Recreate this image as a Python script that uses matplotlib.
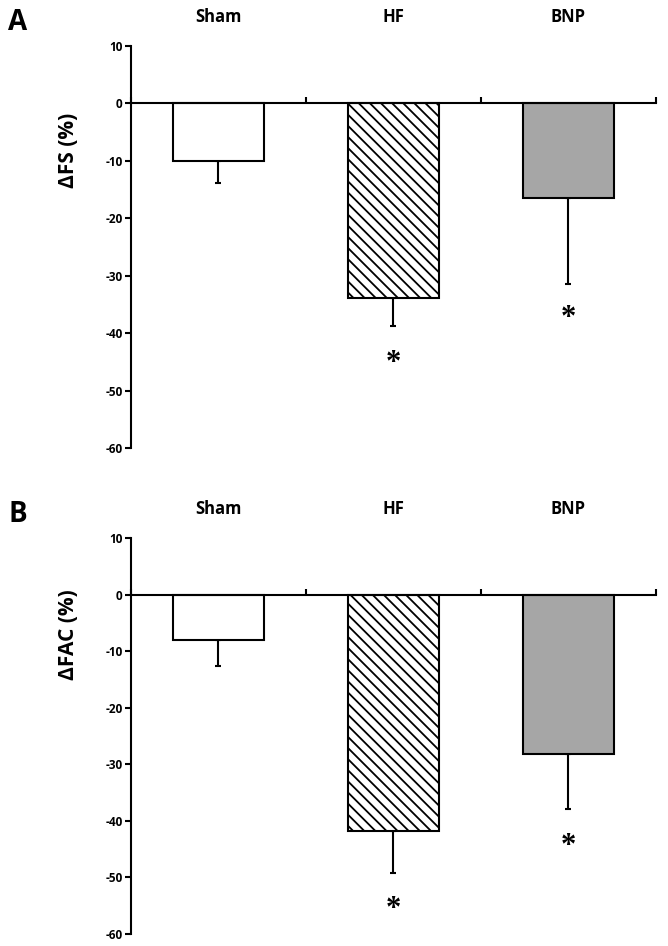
import numpy as np
import matplotlib
matplotlib.use('Agg')
import matplotlib.pyplot as plt

plt.rcParams['font.family'] = ['Open Sans', 'DejaVu Sans']
plt.rcParams['font.weight'] = 'bold'
plt.rcParams['hatch.linewidth'] = 1.3
plt.rcParams['axes.unicode_minus'] = False

groups = ['Sham', 'HF', 'BNP']

# panel A: change in fractional shortening
fs_mean = [-10.1, -33.9, -16.4]
fs_err = [3.8, 4.8, 15.0]
fs_star = [None, -45.3, -37.5]

# panel B: change in fractional area change
fac_mean = [-8.0, -41.8, -28.1]
fac_err = [4.7, 7.4, 9.8]
fac_star = [None, -55.6, -44.6]

faces = ['white', 'white', '#a6a6a6']
hatches = ['', '\\\\\\', '']

fig = plt.figure(figsize=(6.68, 9.46), dpi=100)


def draw_panel(rect, means, errs, stars, ylabel, label_y, letter):
    ax = fig.add_axes(rect)
    x = np.arange(len(groups))
    bars = ax.bar(x, means, width=0.52, color=faces, edgecolor='black',
                  linewidth=1.5, zorder=2)
    for b, h in zip(bars, hatches):
        b.set_hatch(h)
    ax.errorbar(x, means, yerr=[errs, [0] * len(errs)], fmt='none',
                ecolor='black', elinewidth=1.5, capsize=2, capthick=1.5,
                zorder=1)
    for xi, s in zip(x, stars):
        if s is not None:
            ax.text(xi, s, '*', ha='center', va='center', fontsize=22,
                    family='Liberation Serif', fontweight='bold')
    ax.set_xlim(-0.5, 2.5)
    ax.set_ylim(-60, 10)
    ax.set_yticks([10, 0, -10, -20, -30, -40, -50, -60])
    ax.spines['top'].set_visible(False)
    ax.spines['right'].set_visible(False)
    ax.spines['bottom'].set_position(('data', 0))
    ax.spines['left'].set_linewidth(1.5)
    ax.spines['bottom'].set_linewidth(1.5)
    ax.set_xticks([-0.5, 0.5, 1.5, 2.5])
    ax.set_xticklabels([])
    ax.tick_params(axis='x', direction='in', length=4, width=1.5)
    ax.tick_params(axis='y', direction='out', length=4, width=1.5,
                   labelsize=8.5, pad=2)
    ax.set_ylabel(ylabel, fontsize=15, fontweight='bold')
    ax.yaxis.set_label_coords(-0.098, label_y)
    for xi, g in zip(x, groups):
        ax.text(xi, 1.05, g, transform=ax.get_xaxis_transform(),
                ha='center', va='bottom', fontsize=12, fontweight='bold')
    fig.text(0.012, rect[1] + rect[3] + 0.025, letter, fontsize=20,
             fontweight='bold', va='center', ha='left')
    return ax


draw_panel([0.196, 0.5264, 0.786, 0.425], fs_mean, fs_err, fs_star,
           'ΔFS (%)', 0.74, 'A')
draw_panel([0.196, 0.0127, 0.786, 0.4186], fac_mean, fac_err, fac_star,
           'ΔFAC (%)', 0.755, 'B')

fig.savefig('out.png', dpi=100)
